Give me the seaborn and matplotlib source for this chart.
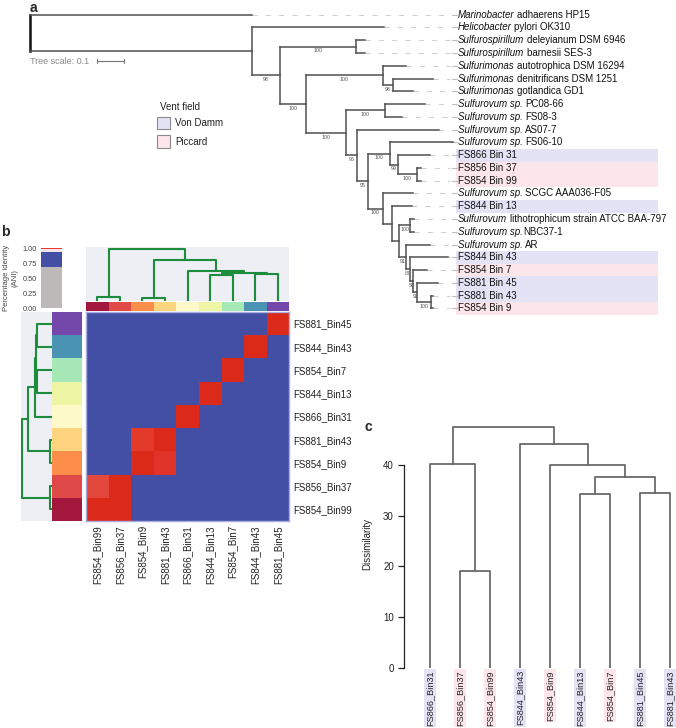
import numpy as np
import pandas as pd
import matplotlib
matplotlib.use("Agg")
import matplotlib.pyplot as plt
from matplotlib.colors import ListedColormap, BoundaryNorm
from matplotlib.patches import Rectangle
import seaborn as sns

# ======================= DATA =======================
# ---- Panel a: phylogenetic tree, leaves listed top -> bottom ----
tree_leaf_italic = ["Marinobacter", "Helicobacter", "Sulfurospirillum", "Sulfurospirillum",
                    "Sulfurimonas", "Sulfurimonas", "Sulfurimonas", "Sulfurovum sp.",
                    "Sulfurovum sp.", "Sulfurovum sp.", "Sulfurovum sp.", "", "", "",
                    "Sulfurovum sp.", "", "Sulfurovum", "Sulfurovum sp.", "Sulfurovum sp.",
                    "", "", "", "", ""]
tree_leaf_plain = ["adhaerens HP15", "pylori OK310", "deleyianum DSM 6946", "barnesii SES-3",
                   "autotrophica DSM 16294", "denitrificans DSM 1251", "gotlandica GD1", "PC08-66",
                   "FS08-3", "AS07-7", "FS06-10", "FS866 Bin 31", "FS856 Bin 37", "FS854 Bin 99",
                   "SCGC AAA036-F05", "FS844 Bin 13", "lithotrophicum strain ATCC BAA-797", "NBC37-1",
                   "AR", "FS844 Bin 43", "FS854 Bin 7", "FS881 Bin 45", "FS881 Bin 43", "FS854 Bin 9"]
tree_leaf_gap = [True, True, True, True, True, True, True, True, True, True, True,
                 False, False, False, True, False, True, False, True,
                 False, False, False, False, False]
tree_leaf_field = ["", "", "", "", "", "", "", "", "", "", "",
                   "Von Damm", "Piccard", "Piccard", "", "Von Damm", "", "", "",
                   "Von Damm", "Piccard", "Von Damm", "Von Damm", "Piccard"]
# internal nodes: children (leaf index or node name) and branch lengths to them
tree_nodes = ["root", "A", "B", "C", "D", "E", "F", "G", "H", "I", "J", "K",
              "L", "M", "N", "O", "P", "Q", "R", "S", "T", "U", "V"]
tree_children = [(0, "A"), (1, "B"), ("C", "D"), (2, 3), ("E", "G"), (4, "F"), (5, 6),
                 ("H", "I"), (7, 8), (9, "J"), ("K", "N"), (10, "L"), (11, "M"), (12, 13),
                 (14, "O"), (15, "P"), ("Q", "R"), (16, 17), (18, "S"), (19, "T"),
                 (20, "U"), (21, "V"), (22, 23)]
tree_branch_lengths = [(0.822, 0.821), (0.491, 0.105), (0.281, 0.096), (0.034, 0.034),
                       (0.285, 0.148), (0.086, 0.037), (0.147, 0.073), (0.145, 0.040),
                       (0.148, 0.062), (0.306, 0.043), (0.080, 0.053), (0.234, 0.031),
                       (0.117, 0.068), (0.015, 0.015), (0.114, 0.036), (0.073, 0.026),
                       (0.039, 0.023), (0.015, 0.015), (0.090, 0.018), (0.140, 0.010),
                       (0.051, 0.016), (0.077, 0.050), (0.006, 0.006)]
tree_support = {"B": 98, "C": 100, "D": 100, "E": 100, "F": 98, "G": 100, "H": 100,
                "I": 96, "J": 95, "K": 100, "L": 99, "M": 100, "N": 100, "Q": 100,
                "R": 91, "S": 87, "T": 50, "U": 92, "V": 100}

vent_fields = ["Von Damm", "Piccard"]
vent_colors = ["#e4e2f5", "#fde6ea"]

# ---- Panel b: ANI heatmap (columns in cluster order, rows reversed) ----
ani_bins = ["FS854_Bin99", "FS856_Bin37", "FS854_Bin9", "FS881_Bin43", "FS866_Bin31",
            "FS844_Bin13", "FS854_Bin7", "FS844_Bin43", "FS881_Bin45"]
ani_rows = ani_bins[::-1]
ani_values = [
    [0.76, 0.76, 0.76, 0.76, 0.76, 0.76, 0.76, 0.76, 1.00],
    [0.76, 0.76, 0.76, 0.76, 0.76, 0.76, 0.76, 1.00, 0.76],
    [0.76, 0.76, 0.76, 0.76, 0.76, 0.76, 1.00, 0.76, 0.76],
    [0.76, 0.76, 0.76, 0.76, 0.76, 1.00, 0.76, 0.76, 0.76],
    [0.76, 0.76, 0.76, 0.76, 1.00, 0.76, 0.76, 0.76, 0.76],
    [0.76, 0.76, 0.985, 1.00, 0.76, 0.76, 0.76, 0.76, 0.76],
    [0.76, 0.76, 1.00, 0.99, 0.76, 0.76, 0.76, 0.76, 0.76],
    [0.975, 1.00, 0.76, 0.76, 0.76, 0.76, 0.76, 0.76, 0.76],
    [1.00, 0.995, 0.76, 0.76, 0.76, 0.76, 0.76, 0.76, 0.76],
]
ani_link_left = [2, 0, 5, 7, 11, 4, 9, 10]
ani_link_right = [3, 1, 6, 8, 12, 13, 14, 15]
ani_link_height = [0.05, 0.07, 0.487, 0.514, 0.534, 0.565, 0.79, 1.0]
ani_key_edges = [0.0, 0.695, 0.935, 0.99, 1.012]
ani_key_colors = ["#bdb9b9", "#434fa5", "#f5e3ea", "#e8392b"]
ani_bounds = [0.0, 0.95, 0.98, 0.988, 0.993, 1.001]
ani_cell_colors = ["#434fa5", "#e4473b", "#e33a2b", "#e0342a", "#dc2a1a"]
bin_colors = ["#a4183f", "#df4a48", "#fc8e4a", "#fed57e", "#fef9c8",
              "#eef5a5", "#a7e9b6", "#4a93b3", "#7448aa"]

# ---- Panel c: dissimilarity dendrogram ----
dis_bins = ["FS866_Bin31", "FS856_Bin37", "FS854_Bin99", "FS844_Bin43", "FS854_Bin9",
            "FS844_Bin13", "FS854_Bin7", "FS881_Bin45", "FS881_Bin43"]
dis_fields = ["Von Damm", "Piccard", "Piccard", "Von Damm", "Piccard",
              "Von Damm", "Piccard", "Von Damm", "Von Damm"]
dis_link_left = [1, 5, 7, 10, 4, 0, 3, 14]
dis_link_right = [2, 6, 8, 11, 12, 9, 13, 15]
dis_link_height = [19.1, 34.3, 34.4, 37.55, 40.0, 40.2, 44.1, 47.5]
dis_ticks = [0, 10, 20, 30, 40]

# ======================= FIGURE =======================
sns.set_theme(style="white")
plt.rcParams['font.family'] = ['Liberation Sans', 'DejaVu Sans']
W, H = 676, 728
fig = plt.figure(figsize=(W / 100, H / 100), dpi=100)
fig.patch.set_facecolor("white")


def px_axes(x0, y0, x1, y1):
    return fig.add_axes([x0 / W, 1 - y1 / H, (x1 - x0) / W, (y1 - y0) / H])


def dendro_segments(n, left, right, height, offset):
    pos = {i: i + offset for i in range(n)}
    hgt = {i: 0.0 for i in range(n)}
    segs = []
    for k, (a, b, h) in enumerate(zip(left, right, height)):
        segs.append(([pos[a], pos[a], pos[b], pos[b]], [hgt[a], h, h, hgt[b]]))
        pos[n + k] = (pos[a] + pos[b]) / 2
        hgt[n + k] = h
    return segs


field_color = dict(zip(vent_fields, vent_colors))

# ---------------- Panel a ----------------
unit_px = 270.0  # 0.1 tree units = 27 px
ax_a = px_axes(30, 8.3, 676, 314.8)
ax_a.set_xlim(0, 646 / unit_px)
ax_a.set_ylim(len(tree_leaf_plain) - 0.5, -0.5)
ax_a.axis("off")

kids = dict(zip(tree_nodes, tree_children))
blen = dict(zip(tree_nodes, tree_branch_lengths))
depth, ypos = {}, {}


def walk(node, d):
    depth[node] = d
    if isinstance(node, int):
        ypos[node] = node
        return
    for ch, bl in zip(kids[node], blen[node]):
        walk(ch, d + bl)
    ypos[node] = np.mean([ypos[c] for c in kids[node]])


walk("root", 0.0)
lc = "#505050"
for node in tree_nodes:
    c0, c1 = kids[node]
    ax_a.plot([depth[node]] * 2, [ypos[c0], ypos[c1]], color=lc if node != "root" else "#111",
              lw=1.1 if node != "root" else 1.8, clip_on=False, solid_capstyle="projecting")
    for ch in (c0, c1):
        ax_a.plot([depth[node], depth[ch]], [ypos[ch]] * 2, color=lc, lw=1.1,
                  clip_on=False, solid_capstyle="projecting")
        if ch in tree_support:
            ax_a.annotate(str(tree_support[ch]), xy=((depth[node] + depth[ch]) / 2, ypos[ch]),
                          xytext=(0, -1.2), textcoords="offset points", ha="center", va="top",
                          fontsize=3.8, color="#555555")

lab_x = (458 - 30) / unit_px
box_x0, box_x1 = (456 - 30) / unit_px, (657.5 - 30) / unit_px
for i, (it, pl, gap, fld) in enumerate(zip(tree_leaf_italic, tree_leaf_plain, tree_leaf_gap,
                                           tree_leaf_field)):
    if fld:
        ax_a.add_patch(Rectangle((box_x0, i - 0.5), box_x1 - box_x0, 1.0,
                                 facecolor=field_color[fld], edgecolor="none", zorder=0))
    ax_a.plot([depth[i], lab_x - 0.03], [i, i], color="#cfcfcf", lw=0.8,
              linestyle=(0, (4.5, 7.5)), zorder=1)
    ax_a.plot([lab_x - 0.022, lab_x - 0.004], [i, i], color="#bdbdbd", lw=0.8, zorder=1)
    if it:
        t = ax_a.text(lab_x, i, it, fontsize=7, style="italic", va="center", ha="left",
                      color="#111")
        ax_a.annotate(pl, xy=(1, 0), xycoords=t, xytext=(1.8 if gap else 0.3, 0),
                      textcoords="offset points", va="bottom", ha="left", fontsize=7,
                      color="#111")
    else:
        ax_a.text(lab_x, i, pl, fontsize=7, va="center", ha="left", color="#111")

# tree scale
fig.text(30 / W, 1 - 61 / H, "Tree scale: 0.1", fontsize=6.5, color="#8a8a8a",
         va="center", ha="left")
sy = (61 - 14.7) / 12.77
ax_a.plot([(97 - 30) / unit_px, (97 - 30) / unit_px + 0.1], [sy, sy], color="#777", lw=0.8)
for xx in [(97 - 30) / unit_px, (97 - 30) / unit_px + 0.1]:
    ax_a.plot([xx, xx], [sy - 0.15, sy + 0.15], color="#777", lw=0.8)

# legend
fig.text(160 / W, 1 - 107.5 / H, "Vent field", fontsize=7, va="center", ha="left", color="#222")
for k, (name, col) in enumerate(zip(vent_fields, vent_colors)):
    y0 = 116.7 + k * 18.5
    fig.add_artist(Rectangle((157 / W, 1 - (y0 + 12.5) / H), 12.5 / W, 12.5 / H,
                             transform=fig.transFigure, facecolor=col, edgecolor="#8a8a8a",
                             lw=0.8))
    fig.text(175 / W, 1 - (y0 + 6.5) / H, name, fontsize=7, va="center", ha="left",
             color="#222")

# ---------------- Panel b ----------------
bg = "#eeeef5"
green = "#1d8c3c"
nb = len(ani_bins)

# colour key
ax_key = px_axes(41, 248.3, 62, 308.3)
for k in range(len(ani_key_colors)):
    ax_key.bar(0, ani_key_edges[k + 1] - ani_key_edges[k], bottom=ani_key_edges[k],
               width=1.0, color=ani_key_colors[k], clip_on=False, linewidth=0)
ax_key.set_xlim(-0.5, 0.5)
ax_key.set_ylim(0, 1)
ax_key.set_xticks([])
ax_key.set_yticks([0, 0.25, 0.5, 0.75, 1.0])
ax_key.set_yticklabels(["0.00", "0.25", "0.50", "0.75", "1.00"])
ax_key.tick_params(axis="y", length=0, labelsize=5.3, pad=3, labelcolor="#444")
for s in ax_key.spines.values():
    s.set_visible(False)
fig.text(11 / W, 1 - 278 / H, "Percentage identity\n(ANI)", rotation=90, fontsize=5.5,
         ha="center", va="center", multialignment="center", color="#444")

# column dendrogram
ax_cd = px_axes(86, 246.7, 289.3, 300.7)
ax_cd.set_facecolor(bg)
for xs, ys in dendro_segments(nb, ani_link_left, ani_link_right, ani_link_height, 0.5):
    ax_cd.plot(xs, ys, color=green, lw=1.5)
ax_cd.set_xlim(0, nb)
ax_cd.set_ylim(0, 1.04)
ax_cd.set_xticks([]); ax_cd.set_yticks([])
for s in ax_cd.spines.values():
    s.set_visible(False)

# row dendrogram
ax_rd = px_axes(21, 312, 51.7, 521)
ax_rd.set_facecolor(bg)
for xs, ys in dendro_segments(nb, ani_link_left, ani_link_right, ani_link_height, 0.5):
    ax_rd.plot(ys, xs, color=green, lw=1.5)
ax_rd.set_ylim(0, nb)
ax_rd.set_xlim(1.04, 0)
ax_rd.set_xticks([]); ax_rd.set_yticks([])
for s in ax_rd.spines.values():
    s.set_visible(False)

# colour strips
bin_cmap = ListedColormap(bin_colors)
ax_cc = px_axes(86, 302.3, 289.3, 310.5)
sns.heatmap(pd.DataFrame([list(range(nb))]), cmap=bin_cmap, vmin=-0.5, vmax=nb - 0.5,
            cbar=False, ax=ax_cc, xticklabels=False, yticklabels=False)
ax_rc = px_axes(51.7, 312, 81.7, 521)
sns.heatmap(pd.DataFrame([[nb - 1 - i] for i in range(nb)]), cmap=bin_cmap, vmin=-0.5,
            vmax=nb - 0.5, cbar=False, ax=ax_rc, xticklabels=False, yticklabels=False)

# heatmap
ax_h = px_axes(86, 312, 289.3, 521)
ani_df = pd.DataFrame(ani_values, index=ani_rows, columns=ani_bins)
sns.heatmap(ani_df, cmap=ListedColormap(ani_cell_colors),
            norm=BoundaryNorm(ani_bounds, len(ani_cell_colors)), cbar=False, ax=ax_h,
            xticklabels=True, yticklabels=True)
ax_h.yaxis.tick_right()
ax_h.set_yticklabels(ani_rows, rotation=0, fontsize=7, color="#222")
ax_h.set_xticklabels(ani_bins, rotation=90, fontsize=7, color="#222")
ax_h.tick_params(length=0, pad=3)
ax_h.set_xlabel(""); ax_h.set_ylabel("")
for s in ax_h.spines.values():
    s.set_visible(True)
    s.set_color("#a9acdf")
    s.set_linewidth(1.0)

# ---------------- Panel c ----------------
px_per = (667.7 - 465) / 40.0
ax_c = px_axes(404, 420, 676, 667.7)
for xs, ys in dendro_segments(len(dis_bins), dis_link_left, dis_link_right, dis_link_height, 0.0):
    ax_c.plot(xs, ys, color="#6a6a6a", lw=1.3, solid_capstyle="projecting")
ax_c.set_xlim(-(430 - 404) / 30, (676 - 430) / 30)
ax_c.set_ylim(0, (667.7 - 420) / px_per)
ax_c.set_facecolor("none")
for k in ["top", "right", "bottom"]:
    ax_c.spines[k].set_visible(False)
ax_c.spines["left"].set_bounds(0, 40)
ax_c.spines["left"].set_color("#222")
ax_c.spines["left"].set_linewidth(0.9)
ax_c.set_xticks([])
ax_c.set_yticks(dis_ticks)
ax_c.set_yticklabels([str(t) for t in dis_ticks])
ax_c.tick_params(axis="y", left=True, length=4.3, width=0.9, color="#222", labelsize=7,
                 pad=3, labelcolor="#222")
ax_c.set_ylabel("Dissimilarity", fontsize=7, color="#222", labelpad=8)
for i, (name, fld) in enumerate(zip(dis_bins, dis_fields)):
    ax_c.annotate(name, xy=(i, 0), xytext=(0, -1.8), textcoords="offset points", rotation=90,
                  ha="center", va="top", fontsize=6.6, color="#222", annotation_clip=False,
                  bbox=dict(boxstyle="square,pad=0.12", fc=field_color[fld], ec="none"))

# panel letters
fig.text(33 / W, 1 - 7.5 / H, "a", fontsize=10, fontweight="bold", ha="center", va="center")
fig.text(5 / W, 1 - 232 / H, "b", fontsize=10, fontweight="bold", ha="center", va="center")
fig.text(368 / W, 1 - 427 / H, "c", fontsize=10, fontweight="bold", ha="center", va="center")

fig.savefig("out.png", dpi=100, facecolor="white")
